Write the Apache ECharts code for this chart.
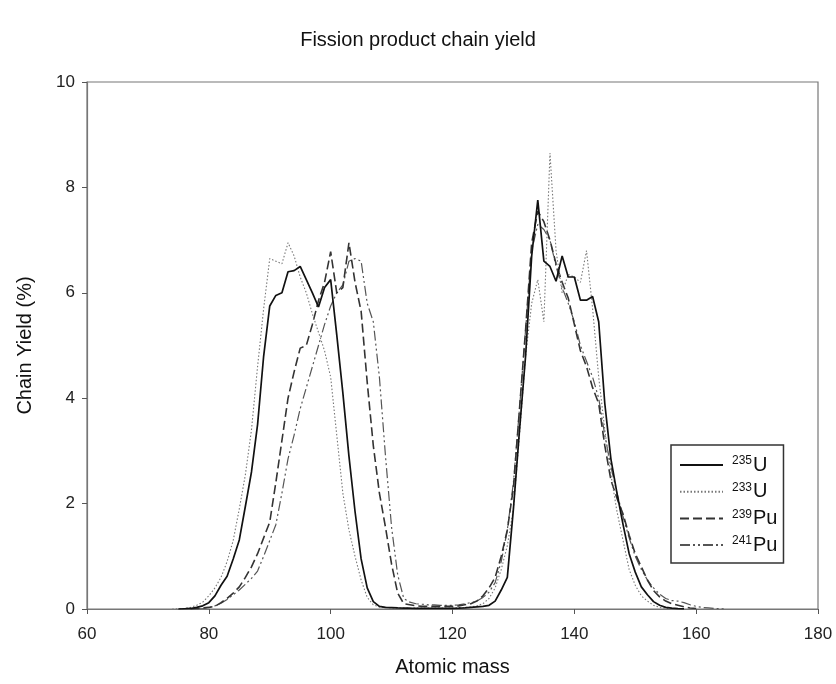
<!DOCTYPE html>
<html>
<head>
<meta charset="utf-8">
<script src="https://cdn.jsdelivr.net/npm/echarts@6/dist/echarts.min.js"></script>
<style>html,body{margin:0;padding:0;background:#fff;}#c{width:836px;height:684px;}</style>
</head>
<body>
<div id="c"></div>
<script>
// Atomic mass numbers (74 .. 166)
var mass = [];
for (var a = 74; a <= 166; a++) mass.push(a);

// Chain yields (%), index 0 = mass 74
var u235 = [null,0.0,0.005,0.01,0.03,0.06,0.12,0.25,0.45,0.62,0.95,1.31,1.95,2.6,3.5,4.8,5.75,5.95,6.0,6.4,6.42,6.5,6.25,6.0,5.73,6.1,6.25,5.2,4.1,2.9,1.85,0.95,0.4,0.14,0.05,0.03,0.025,0.02,0.018,0.015,0.013,0.012,0.012,0.012,0.012,0.013,0.013,0.015,0.02,0.03,0.04,0.05,0.07,0.15,0.36,0.6,1.9,3.4,4.8,6.7,7.76,6.6,6.5,6.22,6.7,6.3,6.3,5.86,5.86,5.93,5.45,3.9,2.85,2.2,1.6,1.05,0.7,0.42,0.27,0.14,0.07,0.03,0.015,0.006,0.003,null,null,null,null,null,null,null,null];
var u233 = [0.0,0.005,0.01,0.03,0.07,0.13,0.25,0.4,0.6,0.9,1.3,1.9,2.55,3.4,4.6,5.7,6.65,6.6,6.55,6.95,6.7,6.3,6.0,5.6,5.25,4.9,4.4,3.3,2.2,1.5,1.0,0.55,0.22,0.08,0.04,0.03,0.02,0.02,0.02,0.02,0.02,0.02,0.02,0.02,0.02,0.02,0.02,0.025,0.03,0.04,0.06,0.1,0.2,0.4,0.75,1.2,1.9,3.3,4.8,5.8,6.25,5.45,8.65,6.8,6.0,6.35,6.3,6.2,6.8,5.7,4.4,3.4,2.55,1.85,1.3,0.75,0.45,0.25,0.15,0.07,0.03,0.01,0.005,null,null,null,null,null,null,null,null,null,null];
var pu239 = [null,null,null,0.0,0.01,0.02,0.03,0.05,0.12,0.2,0.3,0.42,0.6,0.8,1.05,1.35,1.65,2.4,3.2,4.0,4.5,4.95,5.0,5.4,5.85,6.2,6.78,6.0,6.1,6.95,6.2,5.65,4.3,3.1,2.2,1.55,0.85,0.3,0.1,0.08,0.06,0.05,0.05,0.05,0.05,0.05,0.05,0.06,0.08,0.1,0.15,0.25,0.4,0.6,1.0,1.5,2.3,3.8,5.3,6.95,7.55,7.35,7.0,6.55,6.2,5.9,5.4,4.9,4.6,4.2,3.9,3.1,2.45,2.1,1.8,1.4,1.05,0.8,0.55,0.35,0.23,0.15,0.1,0.07,0.04,0.02,0.01,null,null,null,null,null,null];
var pu241 = [null,null,null,null,0.0,0.01,0.03,0.06,0.11,0.18,0.27,0.36,0.47,0.58,0.72,1.0,1.3,1.6,2.2,2.85,3.3,3.8,4.2,4.6,5.0,5.4,5.75,6.0,6.15,6.6,6.65,6.6,5.8,5.45,4.4,2.9,1.55,0.65,0.2,0.13,0.1,0.09,0.08,0.08,0.07,0.07,0.07,0.08,0.1,0.12,0.15,0.22,0.32,0.5,0.9,1.5,2.4,3.8,5.3,6.8,7.3,7.2,7.0,6.5,6.1,5.8,5.45,5.0,4.7,4.4,4.0,3.3,2.7,2.2,1.75,1.35,1.0,0.75,0.55,0.4,0.28,0.2,0.16,0.15,0.12,0.08,0.05,0.03,0.02,0.01,0.005,0.002,null];

var seriesNames = ['{s|235}{b|U}', '{s|233}{b|U}', '{s|239}{b|Pu}', '{s|241}{b|Pu}'];
var seriesData = [u235, u233, pu239, pu241];

function pairs(arr) {
  var out = [];
  for (var i = 0; i < mass.length; i++) out.push([mass[i], arr[i]]);
  return out;
}

var styles = [
  {color: '#111111', width: 1.7, type: 'solid'},
  {color: '#777777', width: 1.1, type: [1.5, 2]},
  {color: '#333333', width: 1.6, type: [9, 4]},
  {color: '#555555', width: 1.2, type: [10, 3, 2, 3, 2, 3]}
];

var chart = echarts.init(document.getElementById('c'), null, {renderer: 'canvas'});
var font = 'Liberation Sans, Arial, sans-serif';
chart.setOption({
  animation: false,
  backgroundColor: '#ffffff',
  title: {
    text: 'Fission product chain yield',
    left: 'center', top: 25,
    textStyle: {fontFamily: font, fontSize: 20, fontWeight: 'normal', color: '#111'}
  },
  grid: {left: 87, right: 18, top: 82, bottom: 75, show: true, borderColor: '#777', borderWidth: 1.2, backgroundColor: 'transparent'},
  legend: {
    orient: 'vertical',
    left: 671, top: 445,
    borderColor: '#333', borderWidth: 1.5,
    padding: [10, 6, 8, 8],
    itemWidth: 43, itemHeight: 14, itemGap: 6.7,
    itemStyle: {opacity: 0},
    data: seriesNames,
    textStyle: {
      fontFamily: font, color: '#111',
      rich: {
        s: {fontFamily: font, fontSize: 12, verticalAlign: 'top', lineHeight: 20, color: '#111', padding: [0, 1, 0, 4]},
        b: {fontFamily: font, fontSize: 20, verticalAlign: 'bottom', lineHeight: 20, color: '#111'}
      }
    }
  },
  xAxis: {
    type: 'value', min: 60, max: 180, interval: 20,
    name: 'Atomic mass', nameLocation: 'middle', nameGap: 48,
    nameTextStyle: {fontFamily: font, fontSize: 20, color: '#111'},
    axisLine: {show: true, onZero: false, lineStyle: {color: '#777', width: 1.2}},
    axisTick: {show: true, inside: false, length: 5, lineStyle: {color: '#555'}},
    axisLabel: {fontFamily: font, fontSize: 17, color: '#222', margin: 17},
    splitLine: {show: false}
  },
  yAxis: {
    type: 'value', min: 0, max: 10, interval: 2,
    name: 'Chain Yield (%)', nameLocation: 'middle', nameGap: 52,
    nameTextStyle: {fontFamily: font, fontSize: 20, color: '#111'},
    axisLine: {show: true, lineStyle: {color: '#777', width: 1.2}},
    axisTick: {show: true, inside: false, length: 5, lineStyle: {color: '#555'}},
    axisLabel: {fontFamily: font, fontSize: 17, color: '#222', margin: 12},
    splitLine: {show: false}
  },
  series: seriesNames.map(function (n, i) {
    return {
      name: n, type: 'line', symbol: 'none', smooth: false,
      data: pairs(seriesData[i]),
      lineStyle: {color: styles[i].color, width: styles[i].width, type: styles[i].type},
      itemStyle: {color: styles[i].color},
      z: 4 - i
    };
  })
});
</script>
</body>
</html>
